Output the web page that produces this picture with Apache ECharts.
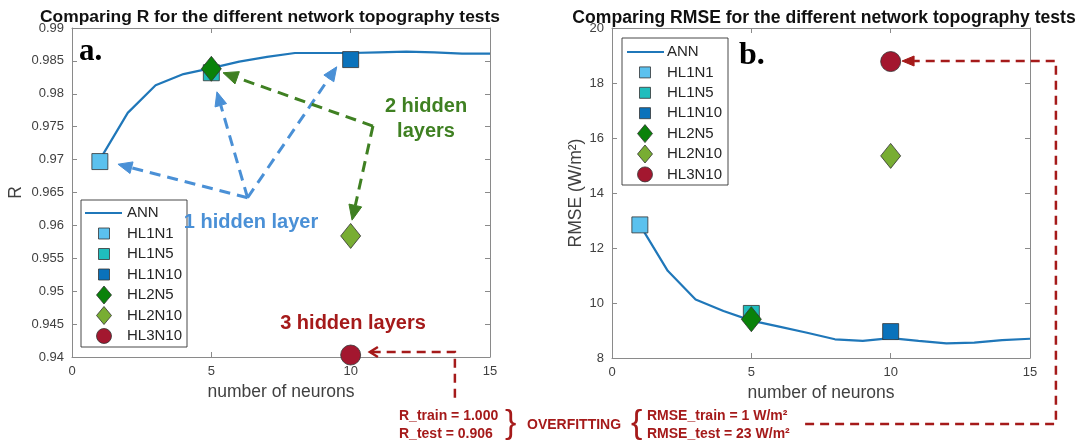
<!DOCTYPE html>
<html>
<head>
<meta charset="utf-8">
<script src="https://cdn.jsdelivr.net/npm/echarts@6/dist/echarts.min.js"></script>
<style>
  html, body { margin: 0; padding: 0; background: #ffffff; }
  #chart { width: 1082px; height: 445px; }
</style>
</head>
<body>
<div id="chart"></div>
<script>
// ---- data ----
const neurons = [1, 2, 3, 4, 5, 6, 7, 8, 9, 10, 11, 12, 13, 14, 15];
const annR = [0.9700, 0.9771, 0.9813, 0.9830, 0.9839, 0.9849, 0.9856, 0.9862, 0.9862, 0.9862, 0.9863, 0.9864, 0.9863, 0.9861, 0.9861];
const annRMSE = [12.84, 11.17, 10.13, 9.71, 9.36, 9.14, 8.92, 8.68, 8.62, 8.72, 8.62, 8.53, 8.56, 8.65, 8.70];

const testNames = ['HL1N1', 'HL1N5', 'HL1N10', 'HL2N5', 'HL2N10', 'HL3N10'];
const testNeurons = [1, 5, 10, 5, 10, 10];
const testR = [0.9697, 0.9832, 0.9852, 0.9838, 0.9584, 0.9403];
const testRMSE = [12.84, 9.62, 8.96, 9.41, 15.35, 18.78];

const xTicks = [0, 5, 10, 15];
const rTicks = [0.94, 0.99, 0.005];      // min, max, step
const rmseTicks = [8, 20, 2];            // min, max, step

const titleR = 'Comparing R for the different network topography tests';
const titleRMSE = 'Comparing RMSE for the different network topography tests';

// ---- styling ----
const testSymbols = ['rect', 'rect', 'rect', 'diamond', 'diamond', 'circle'];
const testColors = ['#5bc1ee', '#1fbdbd', '#0a72bb', '#0a820a', '#78ad33', '#a3172f'];
const testSizes = [16, 16, 16, [20, 25], [20, 25], 20];
const legendSizes = [11, 11, 11, [15, 18], [15, 18], 15];
const annColor = '#1f77b9';
const axisGray = '#8a8a8a';
const textGray = '#404040';
const blueA = '#4a90d6', greenA = '#3f8022', redA = '#a51a1a';

const chart = echarts.init(document.getElementById('chart'), null, { renderer: 'canvas' });

function xAxisDef(grid, pos, withName) {
  return {
    type: 'value', gridIndex: grid, position: pos,
    min: xTicks[0], max: xTicks[xTicks.length - 1], interval: xTicks[1] - xTicks[0],
    axisLine: { show: true, onZero: false, lineStyle: { color: axisGray, width: 1 } },
    axisTick: { show: true, inside: true, length: 5, lineStyle: { color: axisGray } },
    axisLabel: { show: pos === 'bottom', margin: 8, fontSize: 13, color: textGray, fontFamily: 'Liberation Sans, Arial' },
    splitLine: { show: false },
    name: withName ? 'number of neurons' : '',
    nameLocation: 'middle', nameGap: 26,
    nameTextStyle: { fontSize: 17.5, color: textGray, fontFamily: 'Liberation Sans, Arial' }
  };
}
function yAxisDef(grid, pos, ticks, name, gap, fmt) {
  return {
    type: 'value', gridIndex: grid, position: pos,
    min: ticks[0], max: ticks[1], interval: ticks[2],
    axisLine: { show: true, onZero: false, lineStyle: { color: axisGray, width: 1 } },
    axisTick: { show: true, inside: true, length: 5, lineStyle: { color: axisGray } },
    axisLabel: { show: pos === 'left', margin: 8, fontSize: 13, color: textGray, fontFamily: 'Liberation Sans, Arial', formatter: fmt },
    splitLine: { show: false },
    name: name, nameLocation: 'middle', nameGap: gap,
    nameTextStyle: { fontSize: 17.5, color: textGray, fontFamily: 'Liberation Sans, Arial' }
  };
}
const fmtR = v => v.toFixed(3).replace(/0+$/, '');
const fmtN = v => String(Math.round(v));

const series = [];
[[annR, testR, 0], [annRMSE, testRMSE, 1]].forEach(([ann, tests, g]) => {
  series.push({
    name: 'ANN', type: 'line', xAxisIndex: g * 2, yAxisIndex: g * 2,
    data: neurons.map((n, i) => [n, ann[i]]),
    showSymbol: false, symbol: 'none', smooth: false,
    lineStyle: { color: annColor, width: 2.2 }, z: 2, silent: true
  });
  testNames.forEach((nm, i) => {
    series.push({
      name: nm, type: 'scatter', xAxisIndex: g * 2, yAxisIndex: g * 2,
      data: [[testNeurons[i], tests[i]]],
      symbol: testSymbols[i], symbolSize: testSizes[i],
      itemStyle: { color: testColors[i], borderColor: '#333333', borderWidth: 0.8, opacity: 1 },
      z: 3 + i, silent: true
    });
  });
});

chart.setOption({
  animation: false,
  backgroundColor: '#ffffff',
  title: [
    { text: titleR, left: 265, top: 4, textAlign: 'center',
      textStyle: { fontSize: 17.4, fontWeight: 'bold', color: '#111', fontFamily: 'Liberation Sans, Arial' } },
    { text: titleRMSE, left: 819, top: 4, textAlign: 'center',
      textStyle: { fontSize: 17.6, fontWeight: 'bold', color: '#111', fontFamily: 'Liberation Sans, Arial' } }
  ],
  grid: [
    { left: 72, top: 28, width: 418, height: 329 },
    { left: 612, top: 28, width: 418, height: 330 }
  ],
  xAxis: [
    xAxisDef(0, 'bottom', true), xAxisDef(0, 'top', false),
    xAxisDef(1, 'bottom', true), xAxisDef(1, 'top', false)
  ],
  yAxis: [
    yAxisDef(0, 'left', rTicks, 'R', 47, fmtR), yAxisDef(0, 'right', rTicks, '', 0, fmtR),
    yAxisDef(1, 'left', rmseTicks, 'RMSE (W/m²)', 26, fmtN), yAxisDef(1, 'right', rmseTicks, '', 0, fmtN)
  ],
  series: series
});

// ---- annotations, anchored in data coordinates ----
const blueFrom = [6.3, 0.9642];
const blueTips = [[1.65, 0.9693], [5.2, 0.9803], [9.5, 0.9841]];
const greenCorner = [10.8, 0.9751];
const greenTips = [[5.42, 0.9832], [10.05, 0.9608]];
const redLeftPath = [[13.74, 0.9338], [13.74, 0.94076], [10.69, 0.94076]];
const redRightPath = [[6.93, 5.60], [15.93, 5.60], [15.93, 18.8], [10.41, 18.8]];

const px = (g, p) => chart.convertToPixel({ gridIndex: g }, p);
const G = [];

function headPts(tip, from, len, wid) {
  const dx = tip[0] - from[0], dy = tip[1] - from[1];
  const d = Math.hypot(dx, dy), ux = dx / d, uy = dy / d;
  const bx = tip[0] - ux * len, by = tip[1] - uy * len;
  return { base: [bx, by], pts: [tip, [bx - uy * wid / 2, by + ux * wid / 2], [bx + uy * wid / 2, by - ux * wid / 2]] };
}
function arrow(points, color, width, dash, head, filled) {
  const pts = points.slice();
  const tip = pts[pts.length - 1], prev = pts[pts.length - 2];
  const h = headPts(tip, prev, head[0], head[1]);
  if (filled) pts[pts.length - 1] = h.base;
  G.push({ type: 'polyline', shape: { points: pts }, z: 50,
    style: { stroke: color, lineWidth: width, lineDash: dash, fill: null } });
  if (filled) {
    G.push({ type: 'polygon', shape: { points: h.pts }, z: 51, style: { fill: color, stroke: color, lineWidth: 1 } });
  } else {
    G.push({ type: 'polyline', shape: { points: [h.pts[1], h.pts[0], h.pts[2]] }, z: 51,
      style: { stroke: color, lineWidth: width, fill: null } });
  }
}

const bf = px(0, blueFrom);
blueTips.forEach(t => arrow([bf, px(0, t)], blueA, 3, [11, 7], [14, 12], true));
const gc = px(0, greenCorner);
greenTips.forEach(t => arrow([gc, px(0, t)], greenA, 3, [11, 7], [15, 13], true));
arrow(redLeftPath.map(p => px(0, p)), redA, 2.5, [9, 6], [8, 10], false);
arrow(redRightPath.map(p => px(1, p)), redA, 2.5, [9, 6], [12, 10], true);

function txt(x, y, s, size, color, weight, align, family, vAlign) {
  G.push({ type: 'text', x: x, y: y, z: 60, silent: true,
    style: { text: s, fontSize: size, fill: color, fontWeight: weight || 'normal',
      fontFamily: family || 'Liberation Sans, Arial', align: align || 'left', verticalAlign: vAlign || 'middle' } });
}

// callout labels
txt(251, 222, '1 hidden layer', 20, blueA, 'bold', 'center');
txt(426, 106, '2 hidden', 20, greenA, 'bold', 'center');
txt(426, 131, 'layers', 20, greenA, 'bold', 'center');
txt(353, 323, '3 hidden layers', 20, redA, 'bold', 'center');

// panel letters
txt(79, 52, 'a.', 31, '#000', 'bold', 'left', 'Liberation Serif, Times New Roman');
txt(739, 56, 'b.', 32, '#000', 'bold', 'left', 'Liberation Serif, Times New Roman');

// overfitting note
txt(399, 416, 'R_train = 1.000', 14, redA, 'bold');
txt(399, 434, 'R_test = 0.906', 14, redA, 'bold');
txt(505, 424, '}', 34, redA, 'normal');
txt(527, 425, 'OVERFITTING', 14, redA, 'bold');
txt(631, 424, '{', 34, redA, 'normal');
txt(647, 416, 'RMSE_train = 1 W/m²', 14, redA, 'bold');
txt(647, 434, 'RMSE_test = 23 W/m²', 14, redA, 'bold');

// legends
function legend(x0, y0, w, h, rowY0, rowGap, lineX0, lineX1, markX, textX) {
  G.push({ type: 'rect', shape: { x: x0, y: y0, width: w, height: h }, z: 40,
    style: { fill: '#ffffff', stroke: '#333333', lineWidth: 0.9 } });
  G.push({ type: 'line', shape: { x1: lineX0, y1: rowY0, x2: lineX1, y2: rowY0 }, z: 41,
    style: { stroke: annColor, lineWidth: 2.2 } });
  txt(textX, rowY0, 'ANN', 15, '#262626');
  testNames.forEach((nm, i) => {
    const y = rowY0 + (i + 1) * rowGap;
    const sz = legendSizes[i];
    let shape;
    if (testSymbols[i] === 'rect') {
      shape = { type: 'rect', shape: { x: markX - sz / 2, y: y - sz / 2, width: sz, height: sz } };
    } else if (testSymbols[i] === 'diamond') {
      const hw = sz[0] / 2, hh = sz[1] / 2;
      shape = { type: 'polygon', shape: { points: [[markX, y - hh], [markX + hw, y], [markX, y + hh], [markX - hw, y]] } };
    } else {
      shape = { type: 'circle', shape: { cx: markX, cy: y, r: sz / 2 } };
    }
    shape.z = 41;
    shape.style = { fill: testColors[i], stroke: '#333333', lineWidth: 0.8 };
    G.push(shape);
    txt(textX, y, nm, 15, '#262626');
  });
}
legend(81, 200, 106, 147, 213, 20.5, 85, 122, 104, 127);
legend(622, 38, 106, 147, 52, 20.4, 627, 664, 645, 667);

chart.setOption({ graphic: { elements: G } });
</script>
</body>
</html>
